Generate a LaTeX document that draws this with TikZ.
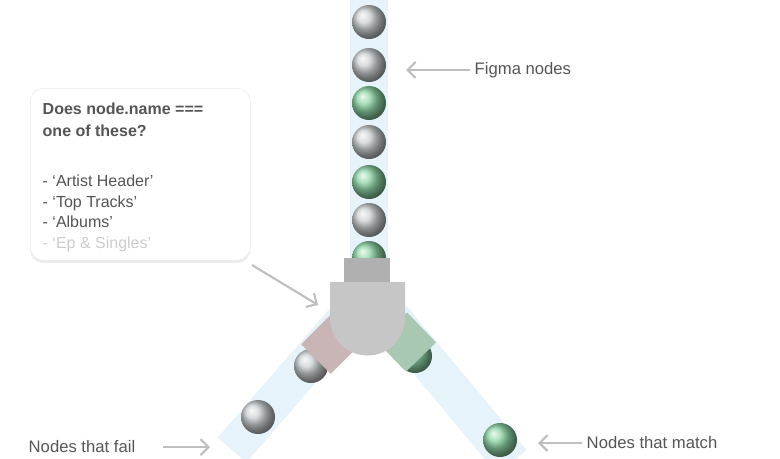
\documentclass[tikz,border=0pt]{standalone}
\usepackage{fontspec}
\setmainfont{Liberation Sans}
\usetikzlibrary{positioning,shadows,arrows.meta}
\definecolor{tube}{HTML}{E6F3FA}
\definecolor{ballgray}{HTML}{CDD2D4}
\definecolor{ballgreen}{HTML}{8ED6A6}
\definecolor{capgray}{HTML}{B0B0B0}
\definecolor{bodygray}{HTML}{C6C6C6}
\definecolor{failpink}{HTML}{C9B5B5}
\definecolor{matchgreen}{HTML}{A9C8B1}
\definecolor{labelgray}{HTML}{555555}
\tikzset{
  graynode/.style={circle, minimum size=34*0.75pt, inner sep=0pt, ball color=ballgray},
  greennode/.style={circle, minimum size=34*0.75pt, inner sep=0pt, ball color=ballgreen},
  tubeline/.style={draw=tube, line width=38*0.75pt},
  pointer/.style={draw=black!25, line width=1.6pt, -{Straight Barb[length=6pt,width=12pt]}},
  label text/.style={font=\fontsize{12.5}{15}\selectfont, text=labelgray, anchor=west},
}
\begin{document}
\begin{tikzpicture}[x=0.75pt, y=-0.75pt]
  \useasboundingbox (0,0) rectangle (780,458);
  % tubes
  \coordinate (top) at (369,0);
  \coordinate (hub) at (369,268);
  \coordinate (leftend) at (232,450);
  \coordinate (rightend) at (512,462);
  \draw[tubeline] (top) -- (hub);
  \draw[tubeline] (345,320) -- (leftend);
  \draw[tubeline] (392,318) -- (rightend);
  % figma nodes
  \foreach \y/\s [count=\i] in {22/graynode, 65/graynode, 103/greennode, 142/graynode, 182/greennode, 220/graynode, 258/greennode}
    \node[\s] (n\i) at (369,\y) {};
  \node[graynode] (fail1) at (311,366) {};
  \node[graynode] (fail2) at (258,417) {};
  \node[greennode] (match1) at (415,356) {};
  \node[greennode] (match2) at (500,440) {};
  % connector
  \draw[draw=failpink, line width=42*0.75pt] (346,329) -- (316,359);
  \draw[draw=matchgreen, line width=42*0.75pt] (392,327) -- (421,357);
  \fill[capgray] (344,258) rectangle (390,282);
  \fill[bodygray] (330,282) -- (405,282) -- (405,318) arc (0:180:37.5) -- cycle;
  % question box
  \node[draw=black!8, fill=white, rounded corners=10pt, drop shadow={opacity=0.15, shadow xshift=0pt, shadow yshift=-2pt},
        minimum width=220*0.75pt, minimum height=172*0.75pt, anchor=north west] (question) at (30,88) {};
  \node[anchor=north west, align=left, text=labelgray, font=\bfseries\fontsize{12}{17}\selectfont] (qtitle) at (38,98) {Does node.name ===\\one of these?};
  \node[anchor=north west, align=left, text=labelgray, font=\fontsize{12}{15.6}\selectfont] (qlist) at (38,170)
    {- ‘Artist Header’\\- ‘Top Tracks’\\- ‘Albums’\\\textcolor{black!20}{- ‘Ep \& Singles’}};
  \draw[pointer] (252,265) -- (318,305);
  % labels
  \node[label text] (figma) at (470,70) {Figma nodes};
  \draw[pointer] (figma.west) -- (406,70);
  \node[label text] (failtxt) at (24,447) {Nodes that fail};
  \draw[pointer] (163,447) -- (210,447);
  \node[label text] (matchtxt) at (582,443) {Nodes that match};
  \draw[pointer] (matchtxt.west) -- (538,443);
\end{tikzpicture}
\end{document}
